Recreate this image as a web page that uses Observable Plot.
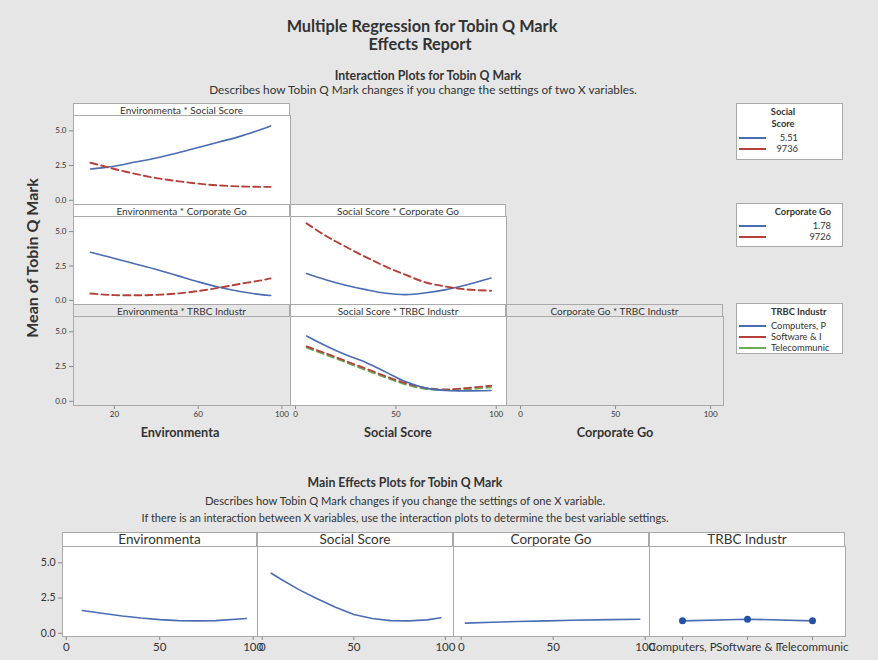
<!DOCTYPE html>
<html><head><meta charset="utf-8">
<script src="https://cdn.jsdelivr.net/npm/d3@7"></script>
<script src="https://cdn.jsdelivr.net/npm/@observablehq/plot@0.6"></script>
<style>
html,body{margin:0;padding:0;background:#e6e6e6;}
#root{position:relative;width:878px;height:660px;background:#e6e6e6;overflow:hidden;font-family:Lato,"Open Sans",sans-serif;color:#333;}
.abs{position:absolute;white-space:nowrap;line-height:1;}
svg{overflow:visible;}
</style></head><body><div id="root"></div>
<script>
// ---------- Data ----------
// Interaction: Environmenta x Social Score
const envGrid = [8.5, 15, 20, 30, 40, 50, 60, 70, 80, 90, 94.6];
const envSocLow  = [2.25, 2.35, 2.45, 2.75, 3.05, 3.4, 3.8, 4.2, 4.6, 5.1, 5.35];   // Social Score 5.51
const envSocHigh = [2.7, 2.45, 2.25, 1.9, 1.6, 1.38, 1.2, 1.07, 1.0, 0.97, 0.97];   // Social Score 97.36
// Interaction: Environmenta x Corporate Go
const envCorpLow  = [3.5, 3.25, 3.05, 2.65, 2.25, 1.8, 1.35, 0.95, 0.65, 0.42, 0.35]; // Corporate Go 1.78
const envCorpHigh = [0.5, 0.42, 0.38, 0.37, 0.4, 0.5, 0.68, 0.92, 1.2, 1.45, 1.6];    // Corporate Go 97.26
// Interaction: Social Score x Corporate Go
const socGrid = [5.5, 15, 25, 35, 45, 55, 65, 75, 85, 97.4];
const socCorpLow  = [1.95, 1.5, 1.1, 0.78, 0.52, 0.42, 0.55, 0.78, 1.12, 1.62];
const socCorpHigh = [5.6, 4.7, 3.9, 3.15, 2.45, 1.85, 1.3, 1.0, 0.8, 0.7];
// Interaction: Social Score x TRBC Industr
const socTrbcComp = [4.7, 4.0, 3.35, 2.8, 2.1, 1.4, 0.95, 0.78, 0.75, 0.78];
const socTrbcSoft = [3.95, 3.45, 2.9, 2.35, 1.8, 1.3, 0.95, 0.85, 0.95, 1.12];
const socTrbcTele = [3.85, 3.35, 2.8, 2.25, 1.7, 1.2, 0.88, 0.8, 0.85, 1.0];
// Legends
const socialLevels = ["5.51", "9736"];
const corpLevels = ["1.78", "9726"];
const trbcLevels = ["Computers, P", "Software & I", "Telecommunic"];
// Main effects
const meEnvX = [8.6, 20, 30, 40, 50, 60, 70, 80, 96.4];
const meEnvY = [1.62, 1.4, 1.22, 1.08, 0.97, 0.9, 0.88, 0.9, 1.05];
const meSocX = [4.9, 10, 20, 30, 40, 50, 60, 70, 80, 90, 97.5];
const meSocY = [4.26, 3.85, 3.1, 2.45, 1.85, 1.33, 1.05, 0.9, 0.88, 0.95, 1.1];
const meCorpX = [2.3, 17, 30, 47, 60, 81, 97];
const meCorpY = [0.72, 0.78, 0.83, 0.88, 0.92, 0.97, 1.0];
const meTrbcCats = ["Computers, P", "Software & I", "Telecommunic"];
const meTrbcY = [0.88, 1.0, 0.88];
// Ticks
const yTicks = [0, 2.5, 5];
const envTicks = [20, 60, 100];
const pctTicks = [0, 50, 100];

// ---------- Helpers ----------
const root = document.getElementById("root");
const FONT = "Lato, 'Open Sans', sans-serif";
const BLUE = "#4a6cb3", RED = "#b5403a", GREEN = "#6aab5a", BORDER = "#a9a9a9", BG = "#e6e6e6";

function text(str, cx, cy, {size = 10, weight = 400, anchor = "middle", rotate = 0, color = "#333"} = {}) {
  const d = document.createElement("div");
  d.className = "abs";
  d.textContent = str;
  d.style.fontSize = size + "px";
  d.style.fontWeight = weight;
  d.style.color = color;
  d.style.left = cx + "px";
  d.style.top = cy + "px";
  const tx = anchor === "middle" ? "-50%" : anchor === "end" ? "-100%" : "0";
  d.style.transform = `translate(${tx},-50%)` + (rotate ? ` rotate(${rotate}deg)` : "");
  root.appendChild(d);
  return d;
}
function box(left, top, w, h, {fill = "white", border = BORDER} = {}) {
  const d = document.createElement("div");
  d.className = "abs";
  Object.assign(d.style, {left: left + "px", top: top + "px", width: w + "px", height: h + "px",
    background: fill, border: `1px solid ${border}`, boxSizing: "border-box"});
  root.appendChild(d);
  return d;
}
function strip(label, left, top, w, h, fill, size) {
  box(left, top, w, h, {fill});
  text(label, left + w / 2, top + h / 2 + 0.5, {size});
}
function line(xs, ys, opts) {
  const data = xs.map((x, i) => ({x, y: ys[i]}));
  return Plot.line(data, {x: "x", y: "y", curve: "catmull-rom", strokeWidth: 1.6, ...opts});
}
function panel({left, top, w, h, x, y, marks = [], bg = "white", yAxis = false, xTicks = null, font = 8, xFont = font}) {
  const ml = yAxis ? 40 : 0, mb = xTicks ? 24 : 0;
  const axes = [];
  if (yAxis) axes.push(Plot.axisY({ticks: yTicks, tickFormat: d3.format(".1f"), tickSize: 4, tickPadding: 3, fontSize: font, stroke: "#888", label: null}));
  if (xTicks) axes.push(Plot.axisX({ticks: xTicks, tickSize: 4, tickPadding: 2, fontSize: xFont, stroke: "#888", label: null}));
  const p = Plot.plot({
    width: w + ml, height: h + mb,
    marginLeft: ml, marginRight: 0, marginTop: 0, marginBottom: mb,
    x: {...x, axis: null, label: null},
    y: {...y, axis: null, label: null},
    style: {background: "transparent", fontFamily: FONT, color: "#333", overflow: "visible"},
    marks: [Plot.frame({fill: bg, stroke: "none"}), ...marks, ...axes, Plot.frame({stroke: BORDER})]
  });
  p.style.position = "absolute";
  p.style.left = (left - ml) + "px";
  p.style.top = top + "px";
  root.appendChild(p);
}

// ---------- Titles ----------
text("Multiple Regression for Tobin Q Mark", 422, 26, {size: 16.3, weight: 700});
text("Effects Report", 420, 44, {size: 16.3, weight: 700});
text("Interaction Plots for Tobin Q Mark", 428, 75.5, {size: 12.3, weight: 700});
text("Describes how Tobin Q Mark changes if you change the settings of two X variables.", 423, 90, {size: 11.8});
text("Mean of Tobin Q Mark", 32, 258, {size: 16, weight: 700, rotate: -90});

// ---------- Interaction grid ----------
const cols = [{l: 73, w: 217, d: [0.4, 104.1]}, {l: 290, w: 216, d: [-2.5, 105.1]}, {l: 506, w: 217, d: [-7.4, 106.8]}];
const rows = [{h0: 103, t: 115, h: 89}, {h0: 204, t: 216, h: 88}, {h0: 304, t: 316, h: 89}];
const yI = {domain: [-0.3, 6.1]};
const dash = "7,4";

// Row 1
strip("Environmenta * Social Score", cols[0].l, rows[0].h0, cols[0].w, 13, "white", 10);
panel({left: cols[0].l, top: rows[0].t, w: cols[0].w, h: rows[0].h, x: {domain: cols[0].d}, y: yI, yAxis: true,
  marks: [line(envGrid, envSocLow, {stroke: BLUE}), line(envGrid, envSocHigh, {stroke: RED, strokeDasharray: dash, strokeWidth: 1.9})]});
// Row 2
strip("Environmenta * Corporate Go", cols[0].l, rows[1].h0, cols[0].w, 13, "white", 10);
strip("Social Score * Corporate Go", cols[1].l, rows[1].h0, cols[1].w, 13, "white", 10);
panel({left: cols[0].l, top: rows[1].t, w: cols[0].w, h: rows[1].h, x: {domain: cols[0].d}, y: yI, yAxis: true,
  marks: [line(envGrid, envCorpLow, {stroke: BLUE}), line(envGrid, envCorpHigh, {stroke: RED, strokeDasharray: dash, strokeWidth: 1.9})]});
panel({left: cols[1].l, top: rows[1].t, w: cols[1].w, h: rows[1].h, x: {domain: cols[1].d}, y: yI,
  marks: [line(socGrid, socCorpLow, {stroke: BLUE}), line(socGrid, socCorpHigh, {stroke: RED, strokeDasharray: dash, strokeWidth: 1.9})]});
// Row 3
strip("Environmenta * TRBC Industr", cols[0].l, rows[2].h0, cols[0].w, 13, BG, 10);
strip("Social Score * TRBC Industr", cols[1].l, rows[2].h0, cols[1].w, 13, "white", 10);
strip("Corporate Go * TRBC Industr", cols[2].l, rows[2].h0, cols[2].w, 13, BG, 10);
panel({left: cols[0].l, top: rows[2].t, w: cols[0].w, h: rows[2].h, x: {domain: cols[0].d}, y: yI, yAxis: true, xTicks: envTicks, bg: BG});
panel({left: cols[1].l, top: rows[2].t, w: cols[1].w, h: rows[2].h, x: {domain: cols[1].d}, y: yI, xTicks: pctTicks,
  marks: [line(socGrid, socTrbcTele, {stroke: GREEN, strokeDasharray: dash, strokeWidth: 1.7}),
          line(socGrid, socTrbcSoft, {stroke: RED, strokeDasharray: dash, strokeWidth: 1.9}),
          line(socGrid, socTrbcComp, {stroke: BLUE})]});
panel({left: cols[2].l, top: rows[2].t, w: cols[2].w, h: rows[2].h, x: {domain: cols[2].d}, y: yI, xTicks: pctTicks, bg: BG});
text("Environmenta", 180, 432, {size: 12.7, weight: 700});
text("Social Score", 398, 432, {size: 12.7, weight: 700});
text("Corporate Go", 615, 432, {size: 12.7, weight: 700});

// ---------- Legends ----------
function legend(top, h, titleLines, items, colors, align) {
  box(736, top, 107, h);
  let y = top + 9;
  titleLines.forEach(t => {
    if (align === "start") text(t, 771, y, {size: 9.3, weight: 700, anchor: "start"});
    else if (align === "center") text(t, 783, y, {size: 9.3, weight: 700});
    else text(t, 831, y, {size: 9.3, weight: 700, anchor: "end"});
    y += 12;
  });
  y += 2;
  items.forEach((t, i) => {
    const s = document.createElement("div");
    s.className = "abs";
    Object.assign(s.style, {left: "739px", top: (y - 1) + "px", width: "27px", height: "2px", background: colors[i]});
    root.appendChild(s);
    if (align === "start") text(t, 771, y, {size: 9.3, anchor: "start"});
    else if (align === "center") text(t, 798, y, {size: 9.3, anchor: "end"});
    else text(t, 831, y, {size: 9.3, anchor: "end"});
    y += 11;
  });
}
legend(103, 57, ["Social", "Score"], socialLevels, [BLUE, RED], "center");
legend(203, 44, ["Corporate Go"], corpLevels, [BLUE, RED], "end");
legend(303, 51, ["TRBC Industr"], trbcLevels, [BLUE, RED, GREEN], "start");

// ---------- Main effects ----------
text("Main Effects Plots for Tobin Q Mark", 405, 483, {size: 12.3, weight: 700});
text("Describes how Tobin Q Mark changes if you change the settings of one X variable.", 405, 501, {size: 11.2});
text("If there is an interaction between X variables, use the interaction plots to determine the best variable settings.", 405, 517, {size: 11});

const yM = {domain: [-0.23, 6.16]};
const mcols = [{l: 62, w: 195, d: [-2, 102.3], t: "Environmenta"}, {l: 257, w: 196, d: [-2.6, 104.4], t: "Social Score"},
               {l: 453, w: 196, d: [-4.2, 102.3], t: "Corporate Go"}, {l: 649, w: 196, t: "TRBC Industr"}];
mcols.forEach(c => strip(c.t, c.l, 532, c.w, 15, "white", 13.5));
const mline = (xs, ys) => Plot.line(xs.map((x, i) => ({x, y: ys[i]})), {x: "x", y: "y", stroke: BLUE, strokeWidth: 1.6});
panel({left: mcols[0].l, top: 546, w: mcols[0].w, h: 90, x: {domain: mcols[0].d}, y: yM, yAxis: true, xTicks: pctTicks, font: 10.5, xFont: 11.5,
  marks: [mline(meEnvX, meEnvY)]});
panel({left: mcols[1].l, top: 546, w: mcols[1].w, h: 90, x: {domain: mcols[1].d}, y: yM, xTicks: pctTicks, xFont: 11.5,
  marks: [mline(meSocX, meSocY)]});
panel({left: mcols[2].l, top: 546, w: mcols[2].w, h: 90, x: {domain: mcols[2].d}, y: yM, xTicks: pctTicks, xFont: 11.5,
  marks: [mline(meCorpX, meCorpY)]});
const trbcData = meTrbcCats.map((c, i) => ({x: c, y: meTrbcY[i]}));
panel({left: mcols[3].l, top: 546, w: mcols[3].w, h: 90, x: {type: "point", domain: meTrbcCats, padding: 0.5}, y: yM, xTicks: meTrbcCats, xFont: 11.5,
  marks: [Plot.line(trbcData, {x: "x", y: "y", stroke: BLUE, strokeWidth: 1.6}),
          Plot.dot(trbcData, {x: "x", y: "y", r: 3.5, fill: "#2552a0", stroke: "none"})]});
</script></body></html>
